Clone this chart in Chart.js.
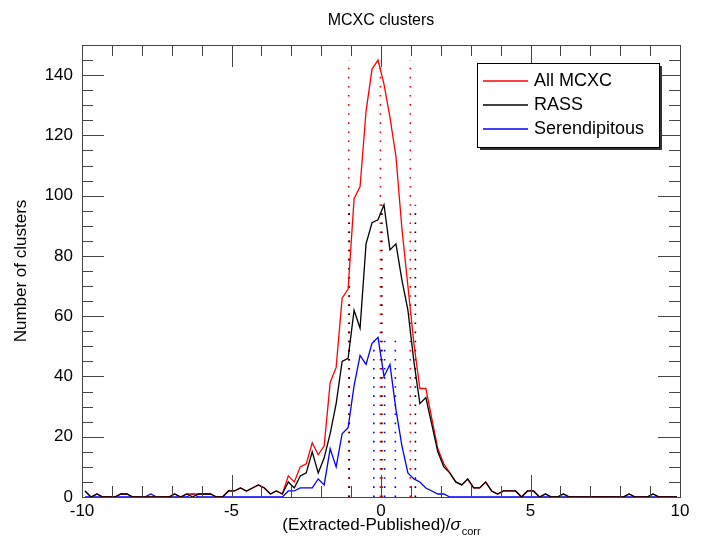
<!DOCTYPE html>
<html>
<head>
<meta charset="utf-8">
<script src="https://cdn.jsdelivr.net/npm/chart.js@4.4.0/dist/chart.umd.min.js"></script>
<style>
  html, body { margin: 0; padding: 0; background: #fff; }
  #wrap { width: 702px; height: 541px; }
</style>
</head>
<body>
<div id="wrap"><canvas id="chart" width="702" height="541"></canvas></div>
<script>
// histogram bin centres, (Extracted-Published)/sigma_corr
const binCenters = [
  -9.9, -9.7, -9.5, -9.3, -9.1, -8.9, -8.7, -8.5, -8.3, -8.1,
  -7.9, -7.7, -7.5, -7.3, -7.1, -6.9, -6.7, -6.5, -6.3, -6.1,
  -5.9, -5.7, -5.5, -5.3, -5.1, -4.9, -4.7, -4.5, -4.3, -4.1,
  -3.9, -3.7, -3.5, -3.3, -3.1, -2.9, -2.7, -2.5, -2.3, -2.1,
  -1.9, -1.7, -1.5, -1.3, -1.1, -0.9, -0.7, -0.5, -0.3, -0.1,
   0.1,  0.3,  0.5,  0.7,  0.9,  1.1,  1.3,  1.5,  1.7,  1.9,
   2.1,  2.3,  2.5,  2.7,  2.9,  3.1,  3.3,  3.5,  3.7,  3.9,
   4.1,  4.3,  4.5,  4.7,  4.9,  5.1,  5.3,  5.5,  5.7,  5.9,
   6.1,  6.3,  6.5,  6.7,  6.9,  7.1,  7.3,  7.5,  7.7,  7.9,
   8.1,  8.3,  8.5,  8.7,  8.9,  9.1,  9.3,  9.5,  9.7,  9.9
];

const allMcxc = [
  2, 0, 1, 0, 0, 0, 1, 1, 0, 0,
  0, 0, 0, 0, 0, 1, 0, 1, 1, 1,
  1, 1, 0, 0, 2, 2, 3, 2, 3, 4,
  3, 1, 2, 1, 7, 5, 10, 11, 18, 14,
  17, 38, 43, 66, 69, 99, 103, 128, 142, 145,
  137, 126, 113, 89, 70, 51, 36, 36, 26, 16,
  11, 8, 5, 4, 6, 3, 3, 5, 2, 1,
  2, 2, 2, 0, 2, 2, 0, 1, 0, 0,
  1, 0, 0, 0, 0, 0, 0, 0, 0, 0,
  0, 1, 0, 0, 0, 1, 0, 0, 0, 0
];

const rass = [
  2, 0, 1, 0, 0, 0, 1, 1, 0, 0,
  0, 0, 0, 0, 0, 1, 0, 1, 0, 1,
  1, 1, 0, 0, 2, 2, 3, 2, 3, 4,
  3, 1, 2, 1, 5, 3, 7, 8, 15, 8,
  13, 21, 31, 45, 46, 62, 56, 84, 91, 92,
  97, 82, 84, 72, 62, 45, 31, 33, 24, 15,
  10, 8, 5, 4, 6, 3, 3, 5, 2, 1,
  2, 2, 2, 0, 2, 2, 0, 1, 0, 0,
  1, 0, 0, 0, 0, 0, 0, 0, 0, 0,
  0, 1, 0, 0, 0, 1, 0, 0, 0, 0
];

const serendipitous = [
  0, 0, 0, 0, 0, 0, 0, 0, 0, 0,
  0, 1, 0, 0, 0, 0, 0, 0, 1, 0,
  0, 0, 0, 0, 0, 0, 0, 0, 0, 0,
  0, 0, 0, 0, 2, 2, 3, 3, 3, 6,
  4, 16, 10, 21, 23, 37, 47, 44, 51, 53,
  40, 44, 29, 17, 8, 6, 5, 3, 2, 1,
  1, 0, 0, 0, 0, 0, 0, 0, 0, 0,
  0, 0, 0, 0, 0, 0, 0, 0, 0, 0,
  0, 0, 0, 0, 0, 0, 0, 0, 0, 0,
  0, 0, 0, 0, 0, 0, 0, 0, 0, 0
];

// dotted markers (mean and +/- sigma of each sample)
const redMarks = [-1.08, -0.02, 0.98];
const blackMarks = [-1.06, 0.03, 1.15];
const blueMarks = [-0.24, 0.12, 0.48];

const xTicks = [-10, -5, 0, 5, 10];
const yTicks = [0, 20, 40, 60, 80, 100, 120, 140];

const legendNames = ['All MCXC', 'RASS', 'Serendipitous'];
const RED = '#ff0000', BLACK = '#000000', BLUE = '#0000ff';
const FONT = '"Liberation Sans", Arial, Helvetica, sans-serif';

function toPoints(vals) {
  return binCenters.map((x, i) => ({ x: x, y: vals[i] }));
}

function markLines(marks, top) {
  const pts = [];
  marks.forEach(m => { pts.push({ x: m, y: 0 }, { x: m, y: top }, { x: m, y: null }); });
  return pts;
}

function seriesSet(label, vals, color) {
  return { label: label, data: toPoints(vals), borderColor: color, borderWidth: 1.3, pointRadius: 0, tension: 0, fill: false };
}

function dottedSet(marks, top, color) {
  return { label: '', data: markLines(marks, top), borderColor: color, borderWidth: 1.6, borderDash: [1.6, 7.5], pointRadius: 0, spanGaps: false, fill: false };
}

// frame with inward ticks, titles, legend box
const decorPlugin = {
  id: 'decor',
  afterDatasetsDraw(chart) {
    const { ctx, chartArea: a, scales: { x, y } } = chart;
    ctx.save();
    ctx.strokeStyle = '#444';
    ctx.lineWidth = 1;
    ctx.strokeRect(a.left + 0.5, a.top + 0.5, a.right - a.left, a.bottom - a.top);
    ctx.beginPath();
    for (let v = x.min; v <= x.max; v += 1) {
      const px = Math.round(x.getPixelForValue(v)) + 0.5;
      const len = xTicks.includes(v) ? 22 : 11;
      ctx.moveTo(px, a.bottom); ctx.lineTo(px, a.bottom - len);
      ctx.moveTo(px, a.top); ctx.lineTo(px, a.top + len);
    }
    for (let v = y.min; v < y.max; v += 5) {
      const py = Math.round(y.getPixelForValue(v)) + 0.5;
      const len = yTicks.includes(v) ? 22 : 11;
      ctx.moveTo(a.left, py); ctx.lineTo(a.left + len, py);
      ctx.moveTo(a.right, py); ctx.lineTo(a.right - len, py);
    }
    ctx.stroke();
    ctx.restore();
  },
  afterDraw(chart) {
    const { ctx, chartArea: a } = chart;
    const cx = (a.left + a.right) / 2;
    ctx.save();
    ctx.fillStyle = '#000';
    ctx.textBaseline = 'alphabetic';

    // title
    ctx.font = '16px ' + FONT;
    ctx.textAlign = 'center';
    ctx.fillText('MCXC clusters', cx, 25);

    // y title
    ctx.save();
    ctx.translate(26, (a.top + a.bottom) / 2);
    ctx.rotate(-Math.PI / 2);
    ctx.font = '17px ' + FONT;
    ctx.fillText('Number of clusters', 0, 0);
    ctx.restore();

    // x title with sigma_corr
    ctx.textAlign = 'left';
    const main = '(Extracted-Published)/';
    ctx.font = '17px ' + FONT;
    const w1 = ctx.measureText(main).width;
    ctx.font = 'italic 17px ' + FONT;
    const w2 = ctx.measureText('σ').width;
    ctx.font = '11px ' + FONT;
    const w3 = ctx.measureText('corr').width;
    let tx = cx - (w1 + w2 + w3) / 2;
    const by = 530;
    ctx.font = '17px ' + FONT;
    ctx.fillText(main, tx, by); tx += w1;
    ctx.font = 'italic 17px ' + FONT;
    ctx.fillText('σ', tx, by); tx += w2 + 1;
    ctx.font = '11px ' + FONT;
    ctx.fillText('corr', tx, by + 5);

    // legend
    const lx = a.right - 203, ly = a.top + 18, lw = 182, lh = 84;
    ctx.fillStyle = '#333';
    ctx.fillRect(lx + 3, ly + 3, lw, lh);
    ctx.fillStyle = '#fff';
    ctx.fillRect(lx, ly, lw, lh);
    ctx.strokeStyle = '#000';
    ctx.lineWidth = 1;
    ctx.strokeRect(lx + 0.5, ly + 0.5, lw, lh);
    const colors = [RED, BLACK, BLUE];
    ctx.font = '18px ' + FONT;
    ctx.textBaseline = 'middle';
    legendNames.forEach((name, i) => {
      const ry = ly + 18 + i * 24;
      ctx.strokeStyle = colors[i];
      ctx.lineWidth = 1.3;
      ctx.beginPath(); ctx.moveTo(lx + 6, ry); ctx.lineTo(lx + 51, ry); ctx.stroke();
      ctx.fillStyle = '#000';
      ctx.fillText(name, lx + 57, ry);
    });
    ctx.restore();
  }
};

const redTop = Math.max(...allMcxc), blackTop = Math.max(...rass), blueTop = Math.max(...serendipitous);

new Chart(document.getElementById('chart'), {
  type: 'line',
  data: {
    datasets: [
      seriesSet(legendNames[1], rass, BLACK),
      seriesSet(legendNames[0], allMcxc, RED),
      seriesSet(legendNames[2], serendipitous, BLUE),
      dottedSet(blackMarks, blackTop, BLACK),
      dottedSet(blueMarks, blueTop, BLUE),
      dottedSet(redMarks, redTop, RED)
    ]
  },
  options: {
    responsive: false,
    animation: false,
    devicePixelRatio: 1,
    layout: { padding: { top: 45, right: 22, left: 0, bottom: 0 } },
    plugins: { legend: { display: false }, tooltip: { enabled: false }, title: { display: false } },
    scales: {
      x: {
        type: 'linear', min: -10, max: 10,
        grid: { display: false, drawTicks: false },
        border: { display: false },
        ticks: { stepSize: 5, maxRotation: 0, padding: 4, color: '#000', font: { family: FONT, size: 17 } },
        afterFit(s) { s.height = 44; }
      },
      y: {
        min: 0, max: 150,
        grid: { display: false, drawTicks: false },
        border: { display: false },
        ticks: { stepSize: 20, padding: 9, color: '#000', font: { family: FONT, size: 17 } },
        afterBuildTicks(s) { s.ticks = yTicks.map(v => ({ value: v })); },
        afterFit(s) { s.width = 82; }
      }
    }
  },
  plugins: [decorPlugin]
});
</script>
</body>
</html>
